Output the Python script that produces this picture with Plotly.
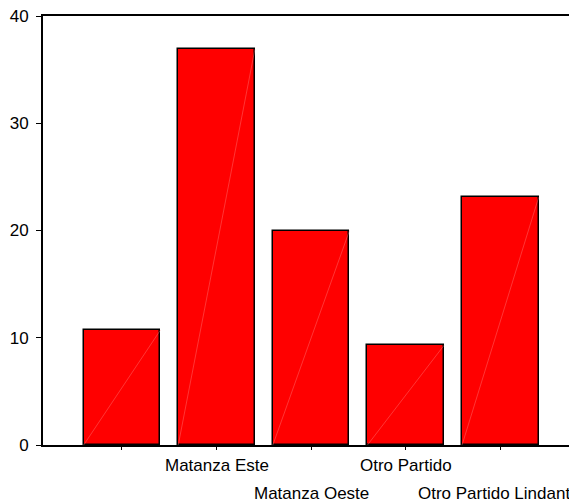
import plotly.graph_objects as go

# categorias y frecuencias
categorias = ["", "Matanza Este", "Matanza Oeste", "Otro Partido", "Otro Partido Lindant"]
frecuencias = [10.7, 36.9, 20.0, 9.3, 23.1]
y_ticks = [0, 10, 20, 30, 40]

FONT = "Liberation Sans, Arial, sans-serif"
ancho = 0.81

fig = go.Figure()

fig.add_trace(go.Bar(
    x=list(range(len(categorias))),
    y=frecuencias,
    width=ancho,
    marker=dict(color="#ff0000", line=dict(color="black", width=1.5)),
    hoverinfo="y",
))

# la diagonal clara que deja el render de SPSS dentro de cada barra
xs, ys = [], []
for i, v in enumerate(frecuencias):
    xs += [i - ancho / 2, i + ancho / 2, None]
    ys += [0, v, None]
fig.add_trace(go.Scatter(x=xs, y=ys, mode="lines",
                         line=dict(color="rgba(255,140,140,0.55)", width=0.7),
                         hoverinfo="skip"))

# etiquetas escalonadas en dos filas
for i, c in enumerate(categorias):
    if not c:
        continue
    ultima = i == len(categorias) - 1
    fig.add_annotation(x=i, y=0, xref="x", yref="y", text=c, showarrow=False,
                       yanchor="middle", xanchor="center",
                       yshift=-20 if i % 2 == 1 else -48,
                       xshift=-6 if ultima else 0,
                       font=dict(family=FONT, size=17, color="black"))

# el body de la pagina tiene 8px de margen: se descuenta aqui
fig.update_layout(
    width=569, height=495,
    margin=dict(l=35, r=0, t=8, b=58, autoexpand=False),
    plot_bgcolor="white", paper_bgcolor="white",
    showlegend=False,
    font=dict(family=FONT, size=16, color="black"),
    bargap=0,
)
fig.update_xaxes(range=[-0.835, 4.81], tickvals=list(range(len(categorias))),
                 ticktext=[""] * len(categorias), ticks="outside", ticklen=3,
                 tickcolor="black", showline=True, linecolor="black", linewidth=1.5,
                 mirror=True, showgrid=False, zeroline=False, automargin=False)
fig.update_yaxes(range=[0, 40], tickvals=y_ticks, ticks="outside", ticklen=5,
                 tickcolor="black", showline=True, linecolor="black", linewidth=2,
                 showgrid=False, zeroline=False, ticklabelstandoff=4, automargin=False,
                 ticklabeloverflow="allow",
                 tickfont=dict(family=FONT, size=17, color="black"))

fig.write_html("out.html")
